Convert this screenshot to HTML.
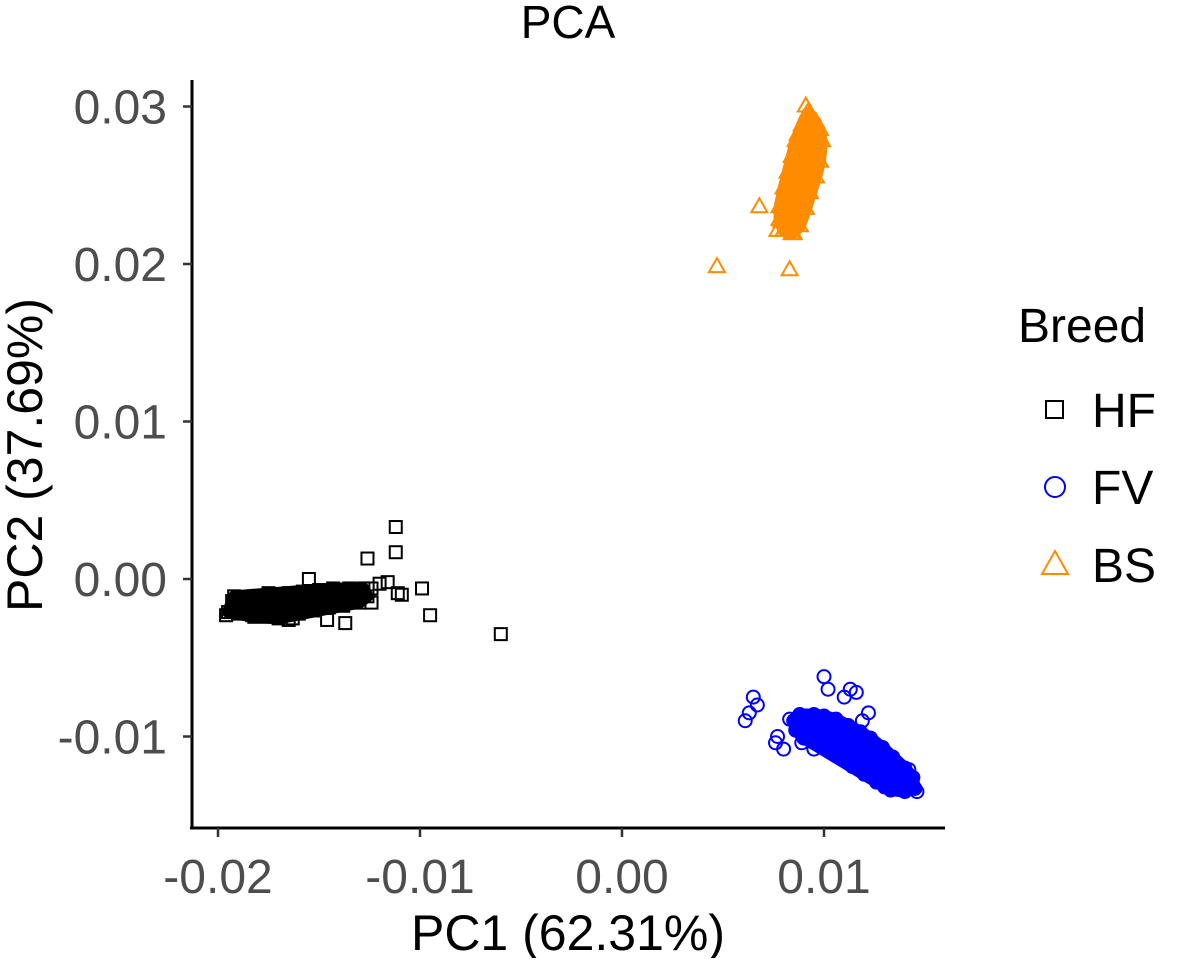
<!DOCTYPE html>
<html><head><meta charset="utf-8"><style>
body{margin:0;background:#fff;}
svg text{font-family:"Liberation Sans",sans-serif;}
</style></head><body>
<svg id="chart" width="1183" height="958" viewBox="0 0 1183 958">
<text x="568" y="38" font-size="46" text-anchor="middle">PCA</text>
<g id="plot"></g>
<line x1="190" y1="828" x2="945" y2="828" stroke="#000" stroke-width="3"/>
<line x1="192" y1="80" x2="192" y2="829" stroke="#000" stroke-width="3"/>
<g id="ticks"></g>
<text x="568" y="950" font-size="50" text-anchor="middle">PC1 (62.31%)</text>
<text transform="translate(42,455) rotate(-90)" font-size="50" text-anchor="middle">PC2 (37.69%)</text>
<g>
<text x="1018" y="342" font-size="48">Breed</text>
<g>
<rect x="1046" y="401" width="17" height="17" fill="none" stroke="#000" stroke-width="2"/>
<text x="1092" y="427" font-size="48">HF</text></g>
<g>
<circle cx="1055" cy="487" r="10" fill="none" stroke="#0000ff" stroke-width="2"/>
<text x="1092" y="504" font-size="48">FV</text></g>
<g>
<polygon points="1055,551 1068,574 1042,574" fill="none" stroke="#ff8c00" stroke-width="2"/>
<text x="1092" y="582" font-size="48">BS</text></g>
</g>
</svg>
<script>
const xTicks=[-0.02,-0.01,0.00,0.01];
const xTickLabels=["-0.02","-0.01","0.00","0.01"];
const yTicks=[0.03,0.02,0.01,0.00,-0.01];
const yTickLabels=["0.03","0.02","0.01","0.00","-0.01"];
// values in units of 0.001
const hfCore=[[-19.5,-2.1],[-19.3,-1.4],[-19,-2.2],[-18.8,-1.3],[-18.5,-1.9],[-18.3,-2.3],[-18,-1.2],[-17.8,-1.8],[-17.5,-2.4],[-17.3,-1.1],[-17,-1.7],[-16.8,-2.3],[-16.5,-0.9],[-16.3,-1.6],[-16,-2.2],[-15.8,-0.8],[-15.5,-1.5],[-15.3,-2.0],[-15,-0.7],[-14.8,-1.3],[-14.5,-1.8],[-14.3,-0.6],[-14,-1.2],[-13.8,-1.7],[-13.5,-0.6],[-13.3,-1.0],[-13,-1.5],[-12.8,-0.6],[-12.6,-1.1],[-19.2,-1.1],[-18.2,-2.4],[-17,-2.5]];
const hfOuter=[[-15.5,0.0],[-14.6,-2.6],[-13.7,-2.8],[-16.5,-2.6],[-19.6,-2.3],[-17.5,-0.9],[-12.4,-0.6],[-12.6,1.3],[-12.0,-0.3],[-11.2,3.3],[-11.2,1.7],[-11.6,-0.2],[-11.1,-0.9],[-10.9,-1.0],[-9.9,-0.6],[-9.5,-2.3],[-6.0,-3.5],[-12.4,-1.5],[-16.3,-2.5]];
const fvCore=[[8.8,-8.6],[9.5,-8.6],[10.0,-8.7],[10.6,-8.9],[11.2,-9.3],[11.8,-9.7],[12.3,-10.1],[12.9,-10.7],[13.4,-11.3],[14.0,-12.0],[14.4,-12.6],[14.5,-13.3],[14.0,-13.5],[13.3,-13.4],[12.6,-12.9],[12.0,-12.4],[11.4,-11.9],[10.8,-11.3],[10.2,-10.8],[9.6,-10.4],[9.0,-10.1],[8.6,-9.6],[8.5,-9.0]];
const fvOuter=[[11.0,-7.5],[10.0,-6.2],[10.2,-7.0],[11.3,-7.0],[11.6,-7.2],[8.3,-8.9],[7.7,-10.0],[7.6,-10.4],[8.0,-10.8],[6.3,-8.5],[6.5,-7.5],[6.1,-9.0],[6.7,-8.0],[14.2,-12.1],[14.6,-13.5],[12.2,-8.5],[11.9,-9.0],[9.5,-10.8],[8.9,-10.4],[13.0,-13.2]];
const bsCore=[[8.0,22.1],[8.4,21.9],[8.8,22.4],[9.1,23.5],[9.3,24.5],[9.6,25.5],[9.8,26.5],[9.9,27.8],[9.6,29.0],[9.2,29.6],[8.9,28.8],[8.6,27.8],[8.4,26.8],[8.2,25.8],[8.0,24.8],[7.8,23.6],[7.8,22.8]];
const bsOuter=[[9.1,30.0],[7.7,22.1],[6.8,23.6],[4.7,19.8],[8.3,19.6],[8.7,28.2],[9.8,28.5],[7.9,22.7],[8.5,21.9]];

const xS=v=>622+v*20200;
const yS=v=>579-v*15750;
const NS="http://www.w3.org/2000/svg";
const plot=document.getElementById('plot');
const ticks=document.getElementById('ticks');

xTicks.forEach((t,i)=>{
  const l=document.createElementNS(NS,'line');
  l.setAttribute('x1',xS(t));l.setAttribute('x2',xS(t));l.setAttribute('y1',828);l.setAttribute('y2',837);
  l.setAttribute('stroke','#333');l.setAttribute('stroke-width','2.5');
  
  
  ticks.appendChild(l);
  const tx=document.createElementNS(NS,'text');
  tx.setAttribute('x',xS(t));tx.setAttribute('y',893);tx.setAttribute('font-size','48');
  tx.setAttribute('text-anchor','middle');tx.setAttribute('fill','#4d4d4d');
  tx.textContent=xTickLabels[i];
  
  
  ticks.appendChild(tx);
});
yTicks.forEach((t,i)=>{
  const l=document.createElementNS(NS,'line');
  l.setAttribute('x1',183);l.setAttribute('x2',192);l.setAttribute('y1',yS(t));l.setAttribute('y2',yS(t));
  l.setAttribute('stroke','#333');l.setAttribute('stroke-width','2.5');
  
  
  ticks.appendChild(l);
  const tx=document.createElementNS(NS,'text');
  tx.setAttribute('x',167);tx.setAttribute('y',yS(t)+17);tx.setAttribute('font-size','48');
  tx.setAttribute('text-anchor','end');tx.setAttribute('fill','#4d4d4d');
  tx.textContent=yTickLabels[i];
  
  
  ticks.appendChild(tx);
});

function hull(pts){
  const p=pts.slice().sort((a,b)=>a[0]-b[0]||a[1]-b[1]);
  const cr=(o,a,b)=>(a[0]-o[0])*(b[1]-o[1])-(a[1]-o[1])*(b[0]-o[0]);
  const lo=[],up=[];
  for(const q of p){while(lo.length>=2&&cr(lo[lo.length-2],lo[lo.length-1],q)<=0)lo.pop();lo.push(q);}
  for(const q of p.slice().reverse()){while(up.length>=2&&cr(up[up.length-2],up[up.length-1],q)<=0)up.pop();up.push(q);}
  return lo.slice(0,-1).concat(up.slice(0,-1));
}
function blob(pts,color,name){
  const h=hull(pts.map(p=>[xS(p[0]/1000),yS(p[1]/1000)]));
  const pg=document.createElementNS(NS,'polygon');
  pg.setAttribute('points',h.map(p=>p.join(',')).join(' '));
  pg.setAttribute('fill',color);pg.setAttribute('stroke',color);pg.setAttribute('stroke-width','12');pg.setAttribute('stroke-linejoin','round');
  
  
  plot.appendChild(pg);
}
function marker(shape,p,color,name){
  const x=xS(p[0]/1000),y=yS(p[1]/1000);
  let e;
  if(shape==='sq'){e=document.createElementNS(NS,'rect');e.setAttribute('x',x-6);e.setAttribute('y',y-6);e.setAttribute('width',12);e.setAttribute('height',12);}
  else if(shape==='ci'){e=document.createElementNS(NS,'circle');e.setAttribute('cx',x);e.setAttribute('cy',y);e.setAttribute('r',6.5);}
  else{e=document.createElementNS(NS,'polygon');e.setAttribute('points',`${x},${y-9} ${x+8},${y+5} ${x-8},${y+5}`);}
  e.setAttribute('fill','none');e.setAttribute('stroke',color);e.setAttribute('stroke-width','2');
  
  
  plot.appendChild(e);
}
blob(hfCore,'#000','hf-cluster');
blob(fvCore,'#0000ff','fv-cluster');
blob(bsCore,'#ff8c00','bs-cluster');
hfCore.concat(hfOuter).forEach(p=>marker('sq',p,'#000','hf-point'));
fvCore.concat(fvOuter).forEach(p=>marker('ci',p,'#0000ff','fv-point'));
bsCore.concat(bsOuter).forEach(p=>marker('tr',p,'#ff8c00','bs-point'));
</script>
</body></html>
